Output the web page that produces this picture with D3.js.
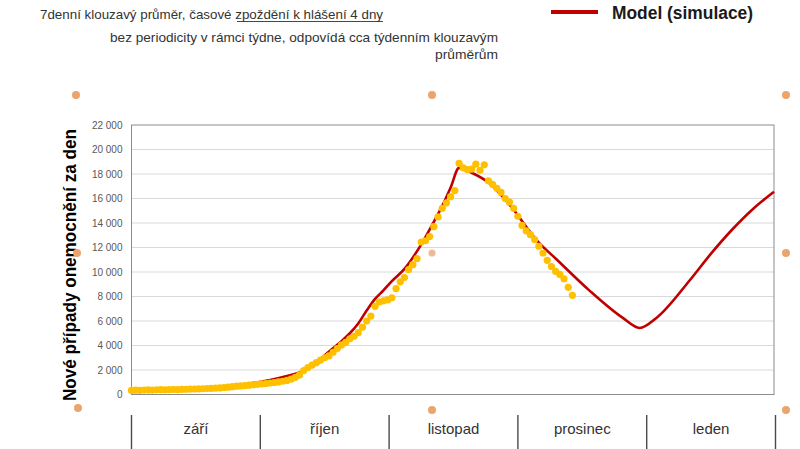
<!DOCTYPE html>
<html><head><meta charset="utf-8">
<script src="https://cdn.jsdelivr.net/npm/d3@7"></script>
<style>
html,body{margin:0;padding:0;background:#fff;}
svg{display:block;}
text{font-family:"Liberation Sans Narrow","Liberation Sans",Arial,sans-serif;}
</style></head>
<body>
<svg id="c" width="800" height="449"></svg>
<script>
// ---- data ----
const months = ["září", "říjen", "listopad", "prosinec", "leden"];
const yTicks = [0, 2000, 4000, 6000, 8000, 10000, 12000, 14000, 16000, 18000, 20000, 22000];
// reported cases, 7-day moving average (day 0 = 1 Sep)
const dataValues = [
  330, 350, 340, 360, 370, 360, 380, 390, 380, 400,
  410, 400, 420, 430, 440, 450, 460, 470, 490, 500,
  520, 540, 570, 600, 640, 680, 700, 730, 760, 800,
  830, 870, 900, 940, 980, 1030, 1080, 1150, 1250, 1400,
  1600, 1950, 2200, 2400, 2600, 2800, 3000, 3150, 3450, 3750,
  4050, 4250, 4550, 4750, 5050, 5500, 6000, 6400, 7200, 7550,
  7650, 7720, 7900, 8650, 9200, 9550, 10200, 10600, 11100, 12450,
  12550, 12900, 13700, 14500, 15200, 15650, 16150, 16650, 18870, 18500,
  18350, 18400, 18800, 18300, 18750, 17450, 17150, 16830, 16500, 16000,
  15700, 15200, 14550, 13800, 13350, 13050, 12650, 12100, 11550, 10950,
  10450, 10050, 9800, 9450, 8750, 8100
];
// model (simulation): day index, value
const modelDays = [0, 7, 14, 21, 28, 33, 37, 40, 43, 45, 47, 50, 52, 54, 56, 58, 60, 62, 65, 68, 70, 72, 74, 76, 78, 81, 85, 90, 97, 101, 109, 117, 121, 125, 133, 138, 143, 148, 153];
const modelValues = [300, 400, 500, 650, 880, 1180, 1500, 1800, 2350, 2900, 3500, 4350, 5000, 5800, 6850, 7800, 8500, 9250, 10250, 11700, 12850, 14100, 15400, 16900, 18500, 18100, 17300, 15500, 12400, 11100, 8500, 6250, 5430, 6250, 9350, 11500, 13450, 15150, 16550];
const totalDays = 153;

// ---- layout ----
const svg = d3.select("#c");
const L = 131.5, R = 774, T = 125, B = 394.5;
const x = d3.scaleLinear().domain([0, totalDays]).range([L, R]);
const y = d3.scaleLinear().domain([0, 22000]).range([B, T]);
const fmt = d3.formatLocale({decimal: ",", thousands: "\u00a0", grouping: [3], currency: ["", ""]}).format(",");

// gridlines
svg.append("g").selectAll("line").data(yTicks.filter(d => d > 0 && d < 22000)).join("line")
  .attr("x1", L).attr("x2", R).attr("y1", d => y(d)).attr("y2", d => y(d))
  .attr("stroke", "#d9d9d9").attr("stroke-width", 1);

// plot border
svg.append("rect").attr("x", L).attr("y", T).attr("width", R - L).attr("height", B - T)
  .attr("fill", "none").attr("stroke", "#8c8c8c").attr("stroke-width", 1);

// y axis
const yAxis = svg.append("g").attr("transform", `translate(${L},0)`)
  .call(d3.axisLeft(y).tickValues(yTicks).tickFormat(fmt).tickSize(0).tickPadding(9));
yAxis.select(".domain").remove();
yAxis.selectAll("text").attr("fill", "#595959").style("font-size", "10px")
  .style("font-family", "'Liberation Sans Narrow','Liberation Sans',Arial,sans-serif");

// model line
const line = d3.line().x(d => x(d[0])).y(d => y(d[1])).curve(d3.curveMonotoneX);
svg.append("path").datum(modelDays.map((d, i) => [d, modelValues[i]]))
  .attr("d", line).attr("fill", "none").attr("stroke", "#c00000").attr("stroke-width", 2.6)
  .attr("stroke-linejoin", "round");

// data dots
svg.append("g").selectAll("circle").data(dataValues).join("circle")
  .attr("cx", (d, i) => x(i)).attr("cy", d => y(d)).attr("r", 3.6).attr("fill", "#ffc000");

// y title
svg.append("text").attr("transform", "translate(76,265) rotate(-90)")
  .attr("text-anchor", "middle").style("font-family", "'Liberation Sans',Arial,sans-serif")
  .style("font-size", "17.5px").style("font-weight", "bold").attr("fill", "#000")
  .attr("textLength", 272).attr("lengthAdjust", "spacingAndGlyphs")
  .text("Nové případy onemocnění za den");

// month table
const xb = d3.scaleBand().domain(months).range([131.5, 775.5]).padding(0);
const bounds = months.map(m => xb(m)).concat([xb(months[months.length - 1]) + xb.bandwidth()]);
svg.append("g").selectAll("line").data(bounds).join("line")
  .attr("x1", d => d).attr("x2", d => d).attr("y1", 415).attr("y2", 449)
  .attr("stroke", "#4a4a4a").attr("stroke-width", 1.4);
svg.append("g").selectAll("text").data(months).join("text")
  .attr("x", d => xb(d) + xb.bandwidth() / 2).attr("y", 434)
  .attr("text-anchor", "middle").style("font-size", "15px").attr("fill", "#333")
  .text(d => d);

// subtitles
const sub1 = svg.append("text").attr("x", 40).attr("y", 19).style("font-size", "13.5px").attr("fill", "#333")
  .attr("textLength", 343).attr("lengthAdjust", "spacingAndGlyphs");
sub1.append("tspan").text("7denní klouzavý průměr, časové ");
sub1.append("tspan").text("zpoždění k hlášení 4 dny");
svg.append("line").attr("x1", 237).attr("x2", 383).attr("y1", 21.5).attr("y2", 21.5)
  .attr("stroke", "#333").attr("stroke-width", 0.9);

svg.append("text").attr("x", 498).attr("y", 42).attr("text-anchor", "end")
  .style("font-size", "13px").attr("fill", "#333")
  .attr("textLength", 388).attr("lengthAdjust", "spacingAndGlyphs")
  .text("bez periodicity v rámci týdne, odpovídá cca týdenním klouzavým");
svg.append("text").attr("x", 498).attr("y", 59).attr("text-anchor", "end")
  .style("font-size", "13px").attr("fill", "#333")
  .attr("textLength", 63).attr("lengthAdjust", "spacingAndGlyphs")
  .text("průměrům");

// legend
svg.append("line").attr("x1", 551).attr("x2", 598).attr("y1", 12).attr("y2", 12)
  .attr("stroke", "#c00000").attr("stroke-width", 4);
svg.append("text").attr("x", 612).attr("y", 19).style("font-size", "18px").style("font-weight", "bold")
  .attr("fill", "#1a1a1a").attr("textLength", 141).attr("lengthAdjust", "spacingAndGlyphs")
  .text("Model (simulace)");

// selection handles (decoration)
const handles = [[76, 95], [432, 95], [786, 95], [77, 253], [786, 253], [78, 408], [432, 410], [786, 410]];
svg.append("g").selectAll("circle").data(handles).join("circle")
  .attr("cx", d => d[0]).attr("cy", d => d[1]).attr("r", 4).attr("fill", "#eba56c");
svg.append("circle").attr("cx", 432).attr("cy", 253).attr("r", 3.6).attr("fill", "#efb99a");
</script>
</body></html>
